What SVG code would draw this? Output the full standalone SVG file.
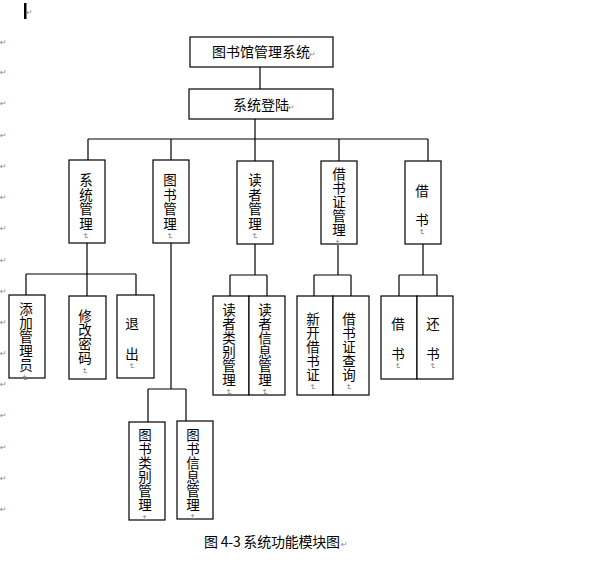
<svg xmlns="http://www.w3.org/2000/svg" width="597" height="567" viewBox="0 0 597 567">
<style>
.box{fill:#fff;stroke:#000;stroke-width:1.2}
.ln{stroke:#000;stroke-width:1.2;fill:none}
.t{font-family:"Noto Sans CJK SC","Liberation Sans",sans-serif;font-size:14px;fill:#000}
.v{font-family:"Noto Sans CJK SC","Liberation Sans",sans-serif;font-size:13.5px;fill:#000;text-anchor:middle}
.pm{font-family:"DejaVu Sans",sans-serif;font-size:8px;fill:#888}
</style>
<rect width="597" height="567" fill="#fff"/>
<g id="margin-marks">
<rect x="24" y="3" width="2.5" height="16" fill="#000"/>
<text class="pm" x="26" y="15">↵</text>
<text class="pm" x="0" y="45">↵</text><text class="pm" x="0" y="75">↵</text><text class="pm" x="0" y="106">↵</text><text class="pm" x="0" y="138">↵</text>
<text class="pm" x="0" y="169">↵</text><text class="pm" x="0" y="200">↵</text><text class="pm" x="0" y="231">↵</text><text class="pm" x="0" y="263">↵</text>
<text class="pm" x="0" y="294">↵</text><text class="pm" x="0" y="325">↵</text><text class="pm" x="0" y="356">↵</text><text class="pm" x="0" y="387">↵</text>
<text class="pm" x="0" y="418">↵</text><text class="pm" x="0" y="450">↵</text><text class="pm" x="0" y="481">↵</text><text class="pm" x="0" y="512">↵</text>
</g>
<g id="connectors">
<path class="ln" d="M260 67V89"/>
<path class="ln" d="M255 119V139M88 139H428M88 139V160M171 139V160M255 139V161M339 139V161M428 139V161"/>
<path class="ln" d="M87 243V296M26 274H136M26 274V295M136 274V295"/>
<path class="ln" d="M171 243V389M148 389H186M148 389V422M186 389V421"/>
<path class="ln" d="M255 244V275M230 275H267M230 275V296M267 275V296"/>
<path class="ln" d="M338 244V275M314 275H351M314 275V296M351 275V296"/>
<path class="ln" d="M423 244V275M399 275H437M399 275V296M437 275V296"/>
</g>
<g id="n-root">
<rect class="box" x="190" y="37" width="143" height="30"/>
<text class="t" x="212" y="57">图书馆管理系统</text><text class="pm" x="309" y="57">↵</text>
</g>
<g id="n-login">
<rect class="box" x="189" y="89" width="144" height="30"/>
<text class="t" x="233" y="110">系统登陆</text><text class="pm" x="288" y="110">↵</text>
</g>
<g id="n-sys">
<rect class="box" x="69" y="160" width="36" height="83"/>
<text class="v"><tspan x="86" y="185">系</tspan><tspan x="86" y="199.5">统</tspan><tspan x="86" y="214">管</tspan><tspan x="86" y="228.5">理</tspan></text>
<text class="pm" transform="translate(83 233) rotate(90)">↵</text>
</g>
<g id="n-book">
<rect class="box" x="153" y="160" width="36" height="83"/>
<text class="v"><tspan x="170" y="185">图</tspan><tspan x="170" y="199.5">书</tspan><tspan x="170" y="214">管</tspan><tspan x="170" y="228.5">理</tspan></text>
<text class="pm" transform="translate(167 233) rotate(90)">↵</text>
</g>
<g id="n-reader">
<rect class="box" x="237" y="161" width="36" height="83"/>
<text class="v"><tspan x="255" y="185">读</tspan><tspan x="255" y="199.5">者</tspan><tspan x="255" y="214">管</tspan><tspan x="255" y="228.5">理</tspan></text>
<text class="pm" transform="translate(252 233) rotate(90)">↵</text>
</g>
<g id="n-card">
<rect class="box" x="321" y="161" width="36" height="83"/>
<text class="v"><tspan x="339" y="179">借</tspan><tspan x="339" y="193">书</tspan><tspan x="339" y="207">证</tspan><tspan x="339" y="221">管</tspan><tspan x="339" y="235">理</tspan></text>
<text class="pm" transform="translate(335 240) rotate(90)">↵</text>
</g>
<g id="n-borrow">
<rect class="box" x="405" y="161" width="36" height="83"/>
<text class="v"><tspan x="422" y="196">借</tspan><tspan x="422" y="225">书</tspan></text>
<text class="pm" transform="translate(419 229) rotate(90)">↵</text>
</g>
<g id="n-addadmin">
<rect class="box" x="9" y="295" width="36" height="83"/>
<text class="v"><tspan x="26" y="314">添</tspan><tspan x="26" y="328">加</tspan><tspan x="26" y="342">管</tspan><tspan x="26" y="356">理</tspan><tspan x="26" y="370">员</tspan></text>
<text class="pm" transform="translate(22 375) rotate(90)">↵</text>
</g>
<g id="n-passwd">
<rect class="box" x="69" y="296" width="37" height="83"/>
<text class="v"><tspan x="85" y="321">修</tspan><tspan x="85" y="335">改</tspan><tspan x="85" y="349">密</tspan><tspan x="85" y="363">码</tspan></text>
<text class="pm" transform="translate(82 368) rotate(90)">↵</text>
</g>
<g id="n-exit">
<rect class="box" x="117" y="295" width="37" height="83"/>
<text class="v"><tspan x="132" y="329">退</tspan><tspan x="132" y="359">出</tspan></text>
<text class="pm" transform="translate(129 363) rotate(90)">↵</text>
</g>
<g id="n-reader-type">
<rect class="box" x="213" y="296" width="36" height="99"/>
<text class="v"><tspan x="229" y="315">读</tspan><tspan x="229" y="329">者</tspan><tspan x="229" y="343">类</tspan><tspan x="229" y="357">别</tspan><tspan x="229" y="371">管</tspan><tspan x="229" y="385">理</tspan></text>
<text class="pm" transform="translate(226 389) rotate(90)">↵</text>
</g>
<g id="n-reader-info">
<rect class="box" x="249" y="296" width="36" height="99"/>
<text class="v"><tspan x="265" y="315">读</tspan><tspan x="265" y="329">者</tspan><tspan x="265" y="343">信</tspan><tspan x="265" y="357">息</tspan><tspan x="265" y="371">管</tspan><tspan x="265" y="385">理</tspan></text>
<text class="pm" transform="translate(262 389) rotate(90)">↵</text>
</g>
<g id="n-newcard">
<rect class="box" x="297" y="296" width="36" height="99"/>
<text class="v"><tspan x="313" y="324">新</tspan><tspan x="313" y="338">开</tspan><tspan x="313" y="352">借</tspan><tspan x="313" y="366">书</tspan><tspan x="313" y="380">证</tspan></text>
<text class="pm" transform="translate(310 384) rotate(90)">↵</text>
</g>
<g id="n-querycard">
<rect class="box" x="333" y="296" width="36" height="99"/>
<text class="v"><tspan x="349" y="324">借</tspan><tspan x="349" y="338">书</tspan><tspan x="349" y="352">证</tspan><tspan x="349" y="366">查</tspan><tspan x="349" y="380">询</tspan></text>
<text class="pm" transform="translate(346 384) rotate(90)">↵</text>
</g>
<g id="n-lend">
<rect class="box" x="381" y="296" width="36" height="83"/>
<text class="v"><tspan x="398" y="329">借</tspan><tspan x="398" y="359">书</tspan></text>
<text class="pm" transform="translate(395 363) rotate(90)">↵</text>
</g>
<g id="n-return">
<rect class="box" x="417" y="296" width="36" height="83"/>
<text class="v"><tspan x="433" y="329">还</tspan><tspan x="433" y="359">书</tspan></text>
<text class="pm" transform="translate(430 363) rotate(90)">↵</text>
</g>
<g id="n-book-type">
<rect class="box" x="129" y="422" width="36" height="98"/>
<text class="v"><tspan x="145" y="440">图</tspan><tspan x="145" y="454">书</tspan><tspan x="145" y="468">类</tspan><tspan x="145" y="482">别</tspan><tspan x="145" y="496">管</tspan><tspan x="145" y="510">理</tspan></text>
<text class="pm" transform="translate(142 515) rotate(90)">↵</text>
</g>
<g id="n-book-info">
<rect class="box" x="177" y="421" width="36" height="98"/>
<text class="v"><tspan x="193" y="440">图</tspan><tspan x="193" y="454">书</tspan><tspan x="193" y="468">信</tspan><tspan x="193" y="482">息</tspan><tspan x="193" y="496">管</tspan><tspan x="193" y="510">理</tspan></text>
<text class="pm" transform="translate(190 514) rotate(90)">↵</text>
</g>
<g id="caption">
<text class="t" x="204" y="547" textLength="136" lengthAdjust="spacing">图 4-3 系统功能模块图</text>
<text class="pm" x="341" y="547">↵</text>
</g>
</svg>
